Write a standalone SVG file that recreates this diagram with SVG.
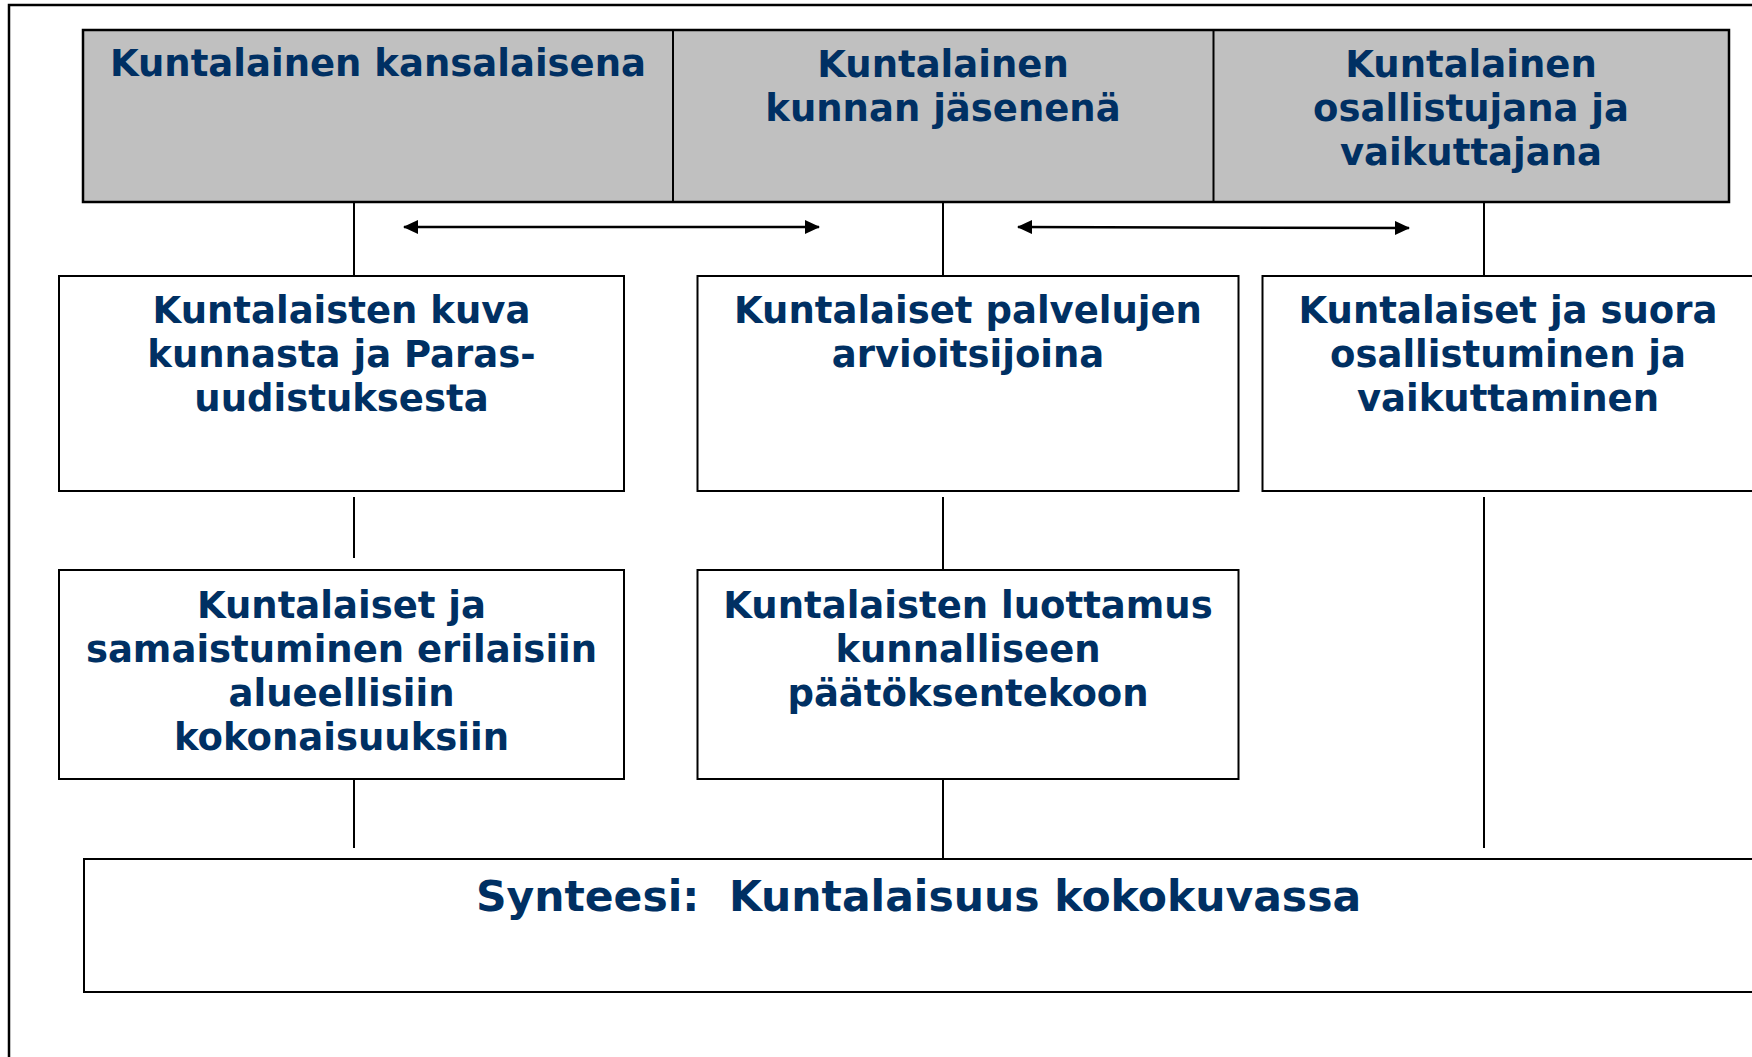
<svg xmlns="http://www.w3.org/2000/svg" width="1752" height="1057" viewBox="0 0 1752 1057">
<defs>
<style>
.frame{fill:none;stroke:#000;stroke-width:2.5}
.hdr{fill:#c0c0c0;stroke:#000;stroke-width:2.5}
.box{fill:#fff;stroke:#000;stroke-width:2}
.div{stroke:#000;stroke-width:2}
.con{stroke:#000;stroke-width:2;fill:none}
.arr{stroke:#000;stroke-width:2.5;fill:none}
.t{font-family:"DejaVu Sans",Verdana,sans-serif;font-weight:bold;font-size:37px;fill:#003063;text-anchor:middle}
.big{font-size:42.5px}
</style>
<marker id="ah" viewBox="0 0 15 14" refX="14" refY="7" markerWidth="15" markerHeight="14" markerUnits="userSpaceOnUse" orient="auto-start-reverse">
<path d="M0,0 L15,7 L0,14 Z" fill="#000"/>
</marker>
</defs>
<rect width="1752" height="1057" fill="#fff"/>
<rect class="frame" x="9" y="5" width="1800" height="1100"/>

<g id="header">
<rect class="hdr" x="83" y="30" width="1646" height="172"/>
<line class="div" x1="673" y1="30" x2="673" y2="202"/>
<line class="div" x1="1213.5" y1="30" x2="1213.5" y2="202"/>
</g>
<g id="h1"><text class="t" x="378" y="76">Kuntalainen kansalaisena</text></g>
<g id="h2"><text class="t" x="943" y="77">Kuntalainen</text><text class="t" x="943" y="121">kunnan jäsenenä</text></g>
<g id="h3"><text class="t" x="1471" y="77">Kuntalainen</text><text class="t" x="1471" y="121">osallistujana ja</text><text class="t" x="1471" y="165">vaikuttajana</text></g>

<g id="connectors">
<line class="con" x1="354" y1="202" x2="354" y2="275"/>
<line class="con" x1="943" y1="202" x2="943" y2="275"/>
<line class="con" x1="1484" y1="202" x2="1484" y2="275"/>
<line class="con" x1="354" y1="497" x2="354" y2="558"/>
<line class="con" x1="943" y1="497" x2="943" y2="570"/>
<line class="con" x1="1484" y1="497" x2="1484" y2="848"/>
<line class="con" x1="354" y1="776" x2="354" y2="848"/>
<line class="con" x1="943" y1="776" x2="943" y2="859"/>
<line class="arr" x1="404" y1="227" x2="819" y2="227" marker-start="url(#ah)" marker-end="url(#ah)"/>
<line class="arr" x1="1018" y1="227" x2="1409" y2="228" marker-start="url(#ah)" marker-end="url(#ah)"/>
</g>

<g id="b1">
<rect class="box" x="59" y="276" width="565" height="215"/>
<text class="t" x="341.5" y="323">Kuntalaisten kuva</text>
<text class="t" x="341.5" y="367">kunnasta ja Paras-</text>
<text class="t" x="341.5" y="411">uudistuksesta</text>
</g>
<g id="b2">
<rect class="box" x="697.5" y="276" width="541" height="215"/>
<text class="t" x="968" y="323">Kuntalaiset palvelujen</text>
<text class="t" x="968" y="367">arvioitsijoina</text>
</g>
<g id="b3">
<rect class="box" x="1262.5" y="276" width="520" height="215"/>
<text class="t" x="1508" y="323">Kuntalaiset ja suora</text>
<text class="t" x="1508" y="367">osallistuminen ja</text>
<text class="t" x="1508" y="411">vaikuttaminen</text>
</g>
<g id="b4">
<rect class="box" x="59" y="570" width="565" height="209"/>
<text class="t" x="341.5" y="618">Kuntalaiset ja</text>
<text class="t" x="341.5" y="662">samaistuminen erilaisiin</text>
<text class="t" x="341.5" y="706">alueellisiin</text>
<text class="t" x="341.5" y="750">kokonaisuuksiin</text>
</g>
<g id="b5">
<rect class="box" x="697.5" y="570" width="541" height="209"/>
<text class="t" x="968" y="618">Kuntalaisten luottamus</text>
<text class="t" x="968" y="662">kunnalliseen</text>
<text class="t" x="968" y="706">päätöksentekoon</text>
</g>
<g id="b6">
<rect class="box" x="84" y="859" width="1720" height="133"/>
<text class="t big" x="918.5" y="911" xml:space="preserve" style="white-space:pre">Synteesi:  Kuntalaisuus kokokuvassa</text>
</g>
</svg>
